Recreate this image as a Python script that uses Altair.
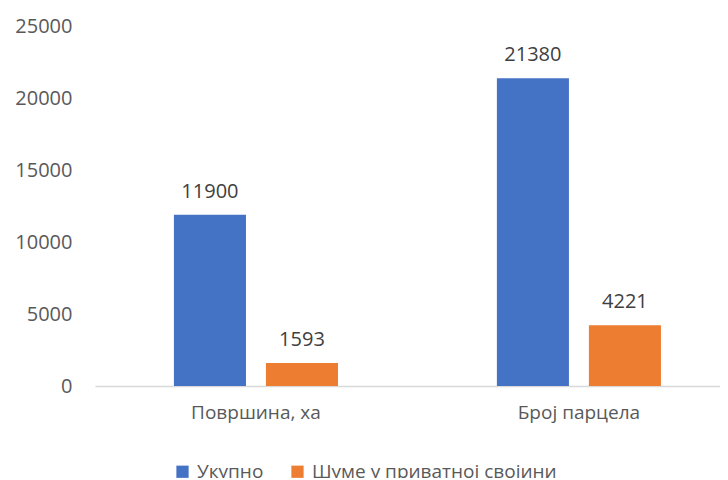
import altair as alt
import pandas as pd

categories = ["Површина, ха", "Број парцела"]
series = ["Укупно", "Шуме у приватној својини"]
totals = [11900, 21380]
private = [1593, 4221]
y_ticks = [0, 5000, 10000, 15000, 20000, 25000]
colors = ["#4472C4", "#ED7D31"]

rows = []
for i, c in enumerate(categories):
    rows.append({"cat": c, "series": series[0], "value": totals[i]})
    rows.append({"cat": c, "series": series[1], "value": private[i]})
df = pd.DataFrame(rows)

FONT = "Open Sans"

x = alt.X("cat:N", sort=categories, title=None,
          scale=alt.Scale(paddingInner=0.492, paddingOuter=0.2136, align=0.572),
          axis=alt.Axis(labelAngle=0, ticks=False, labelPadding=17, labelFontSize=19,
                        labelFont=FONT, labelColor="#595959", domainColor="#D9D9D9",
                        domainWidth=1.5))
xo = alt.XOffset("series:N", sort=series,
                 scale=alt.Scale(paddingInner=0.217, paddingOuter=0))
y = alt.Y("value:Q", title=None,
          scale=alt.Scale(domain=[0, 25000], nice=False),
          axis=alt.Axis(values=y_ticks, format="d", ticks=False, domain=False, grid=False,
                        labelPadding=23, labelFontSize=20, labelFont=FONT,
                        labelColor="#595959"))

bars = alt.Chart(df).mark_bar().encode(
    x=x, xOffset=xo, y=y,
    color=alt.Color("series:N", sort=series,
                    scale=alt.Scale(domain=series, range=colors),
                    legend=alt.Legend(title=None, orient="none", direction="horizontal",
                                      legendX=78, legendY=436, symbolType="square",
                                      symbolSize=150, symbolStrokeWidth=0,
                                      labelFontSize=19, labelFont=FONT,
                                      labelColor="#595959", columnPadding=24,
                                      labelOffset=5, labelLimit=0)),
)

labels = alt.Chart(df).mark_text(dy=-17, baseline="alphabetic", fontSize=20,
                                 font=FONT, color="#404040").encode(
    x=x, xOffset=xo, y=y, text=alt.Text("value:Q", format="d"),
)

chart = alt.layer(bars, labels).properties(
    width=625, height=360,
    autosize=alt.AutoSizeParams(type="none"),
    padding={"left": 87, "top": 18, "right": 0, "bottom": 92},
).configure_view(stroke=None)

chart.save("out.html", embed_options={"renderer": "svg", "actions": False})
